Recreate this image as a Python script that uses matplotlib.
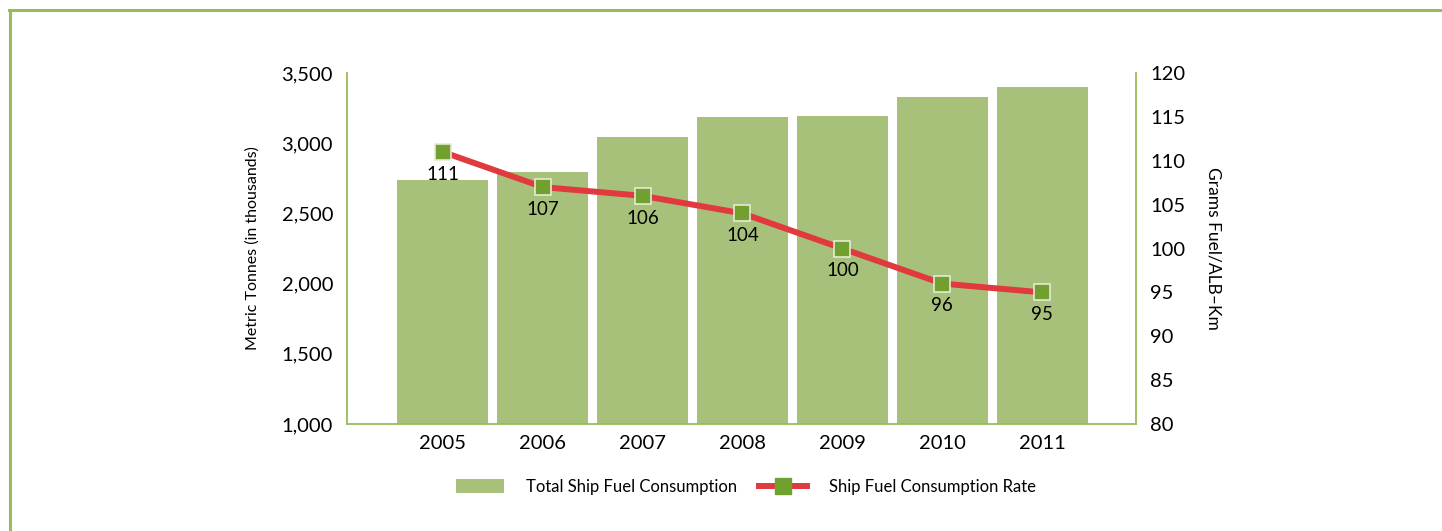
import matplotlib
matplotlib.use("Agg")
import matplotlib.pyplot as plt
from matplotlib.lines import Line2D
from matplotlib.patches import Patch
from matplotlib.ticker import FuncFormatter

years = ["2005", "2006", "2007", "2008", "2009", "2010", "2011"]
total_fuel = [2740, 2795, 3045, 3187, 3194, 3329, 3400]
rate = [111, 107, 106, 104, 100, 96, 95]

plt.rcParams['font.family'] = ['Lato', 'DejaVu Sans']

BAR = "#A8C17A"
LINE = "#E0393E"
MARK = "#72A02E"
SPINE = "#9BBB59"

fig = plt.figure(figsize=(14.42, 5.31), dpi=100)
ax = fig.add_axes([347/1442, 1-424/531, (1136-347)/1442, (424-73)/531])

x = list(range(len(years)))
ax.bar(x, total_fuel, width=0.91, color=BAR, zorder=1)
ax.set_ylim(1000, 3500)
ax.set_yticks([1000, 1500, 2000, 2500, 3000, 3500])
ax.yaxis.set_major_formatter(FuncFormatter(lambda v, p: f"{int(v):,}"))
ax.set_xlim(-0.96, 6.94)
ax.set_xticks(x)
ax.set_xticklabels(years)
ax.tick_params(axis='both', length=0, labelsize=14.5)
ax.tick_params(axis='y', pad=10)
ax.tick_params(axis='x', pad=8)
for s in ['top', 'right']:
    ax.spines[s].set_visible(False)
for s in ['left', 'bottom']:
    ax.spines[s].set_color(SPINE)
    ax.spines[s].set_linewidth(1.3)
ax.set_ylabel("Metric Tonnes (in thousands)", fontsize=11.5, va='center')
ax.yaxis.set_label_coords((253-347)/789, 0.5)

ax2 = ax.twinx()
ax2.set_ylim(80, 120)
ax2.set_yticks(range(80, 121, 5))
ax2.tick_params(axis='y', length=0, labelsize=14.5, pad=10)
for s in ['top', 'left', 'bottom']:
    ax2.spines[s].set_visible(False)
ax2.spines['right'].set_color(SPINE)
ax2.spines['right'].set_linewidth(1.3)
ax2.plot(x, rate, color=LINE, lw=4.3, marker='s', markersize=12,
         markerfacecolor=MARK, markeredgecolor="#E4EAD6", markeredgewidth=1.2, zorder=3)
for xi, v in zip(x, rate):
    ax2.annotate(str(v), (xi, v), xytext=(0, -10), textcoords='offset points',
                 ha='center', va='top', fontsize=13.5)
ax2.set_ylabel("Grams Fuel/ALB\u2013Km", fontsize=12.5, rotation=270, va='center')
ax2.yaxis.set_label_coords((1213-347)/789, 0.5)

handles = [Patch(facecolor=BAR, edgecolor='none'),
           Line2D([0], [0], color=LINE, lw=4.3, marker='s', markersize=11,
                  markerfacecolor=MARK, markeredgecolor=MARK)]
fig.legend(handles, ["Total Ship Fuel Consumption", "Ship Fuel Consumption Rate"],
           loc='center', bbox_to_anchor=(746/1442, 1-487/531), ncol=2, frameon=False,
           fontsize=12, handlelength=2.9, handleheight=0.95, handletextpad=1.3,
           columnspacing=1.3)

# outer frame
fig.add_artist(Line2D([9/1442, 1], [1-9.5/531, 1-9.5/531], color=SPINE, lw=2.2, transform=fig.transFigure))
fig.add_artist(Line2D([9.5/1442, 9.5/1442], [0, 1-9.5/531], color=SPINE, lw=2.2, transform=fig.transFigure))

fig.savefig("out.png", dpi=100)
